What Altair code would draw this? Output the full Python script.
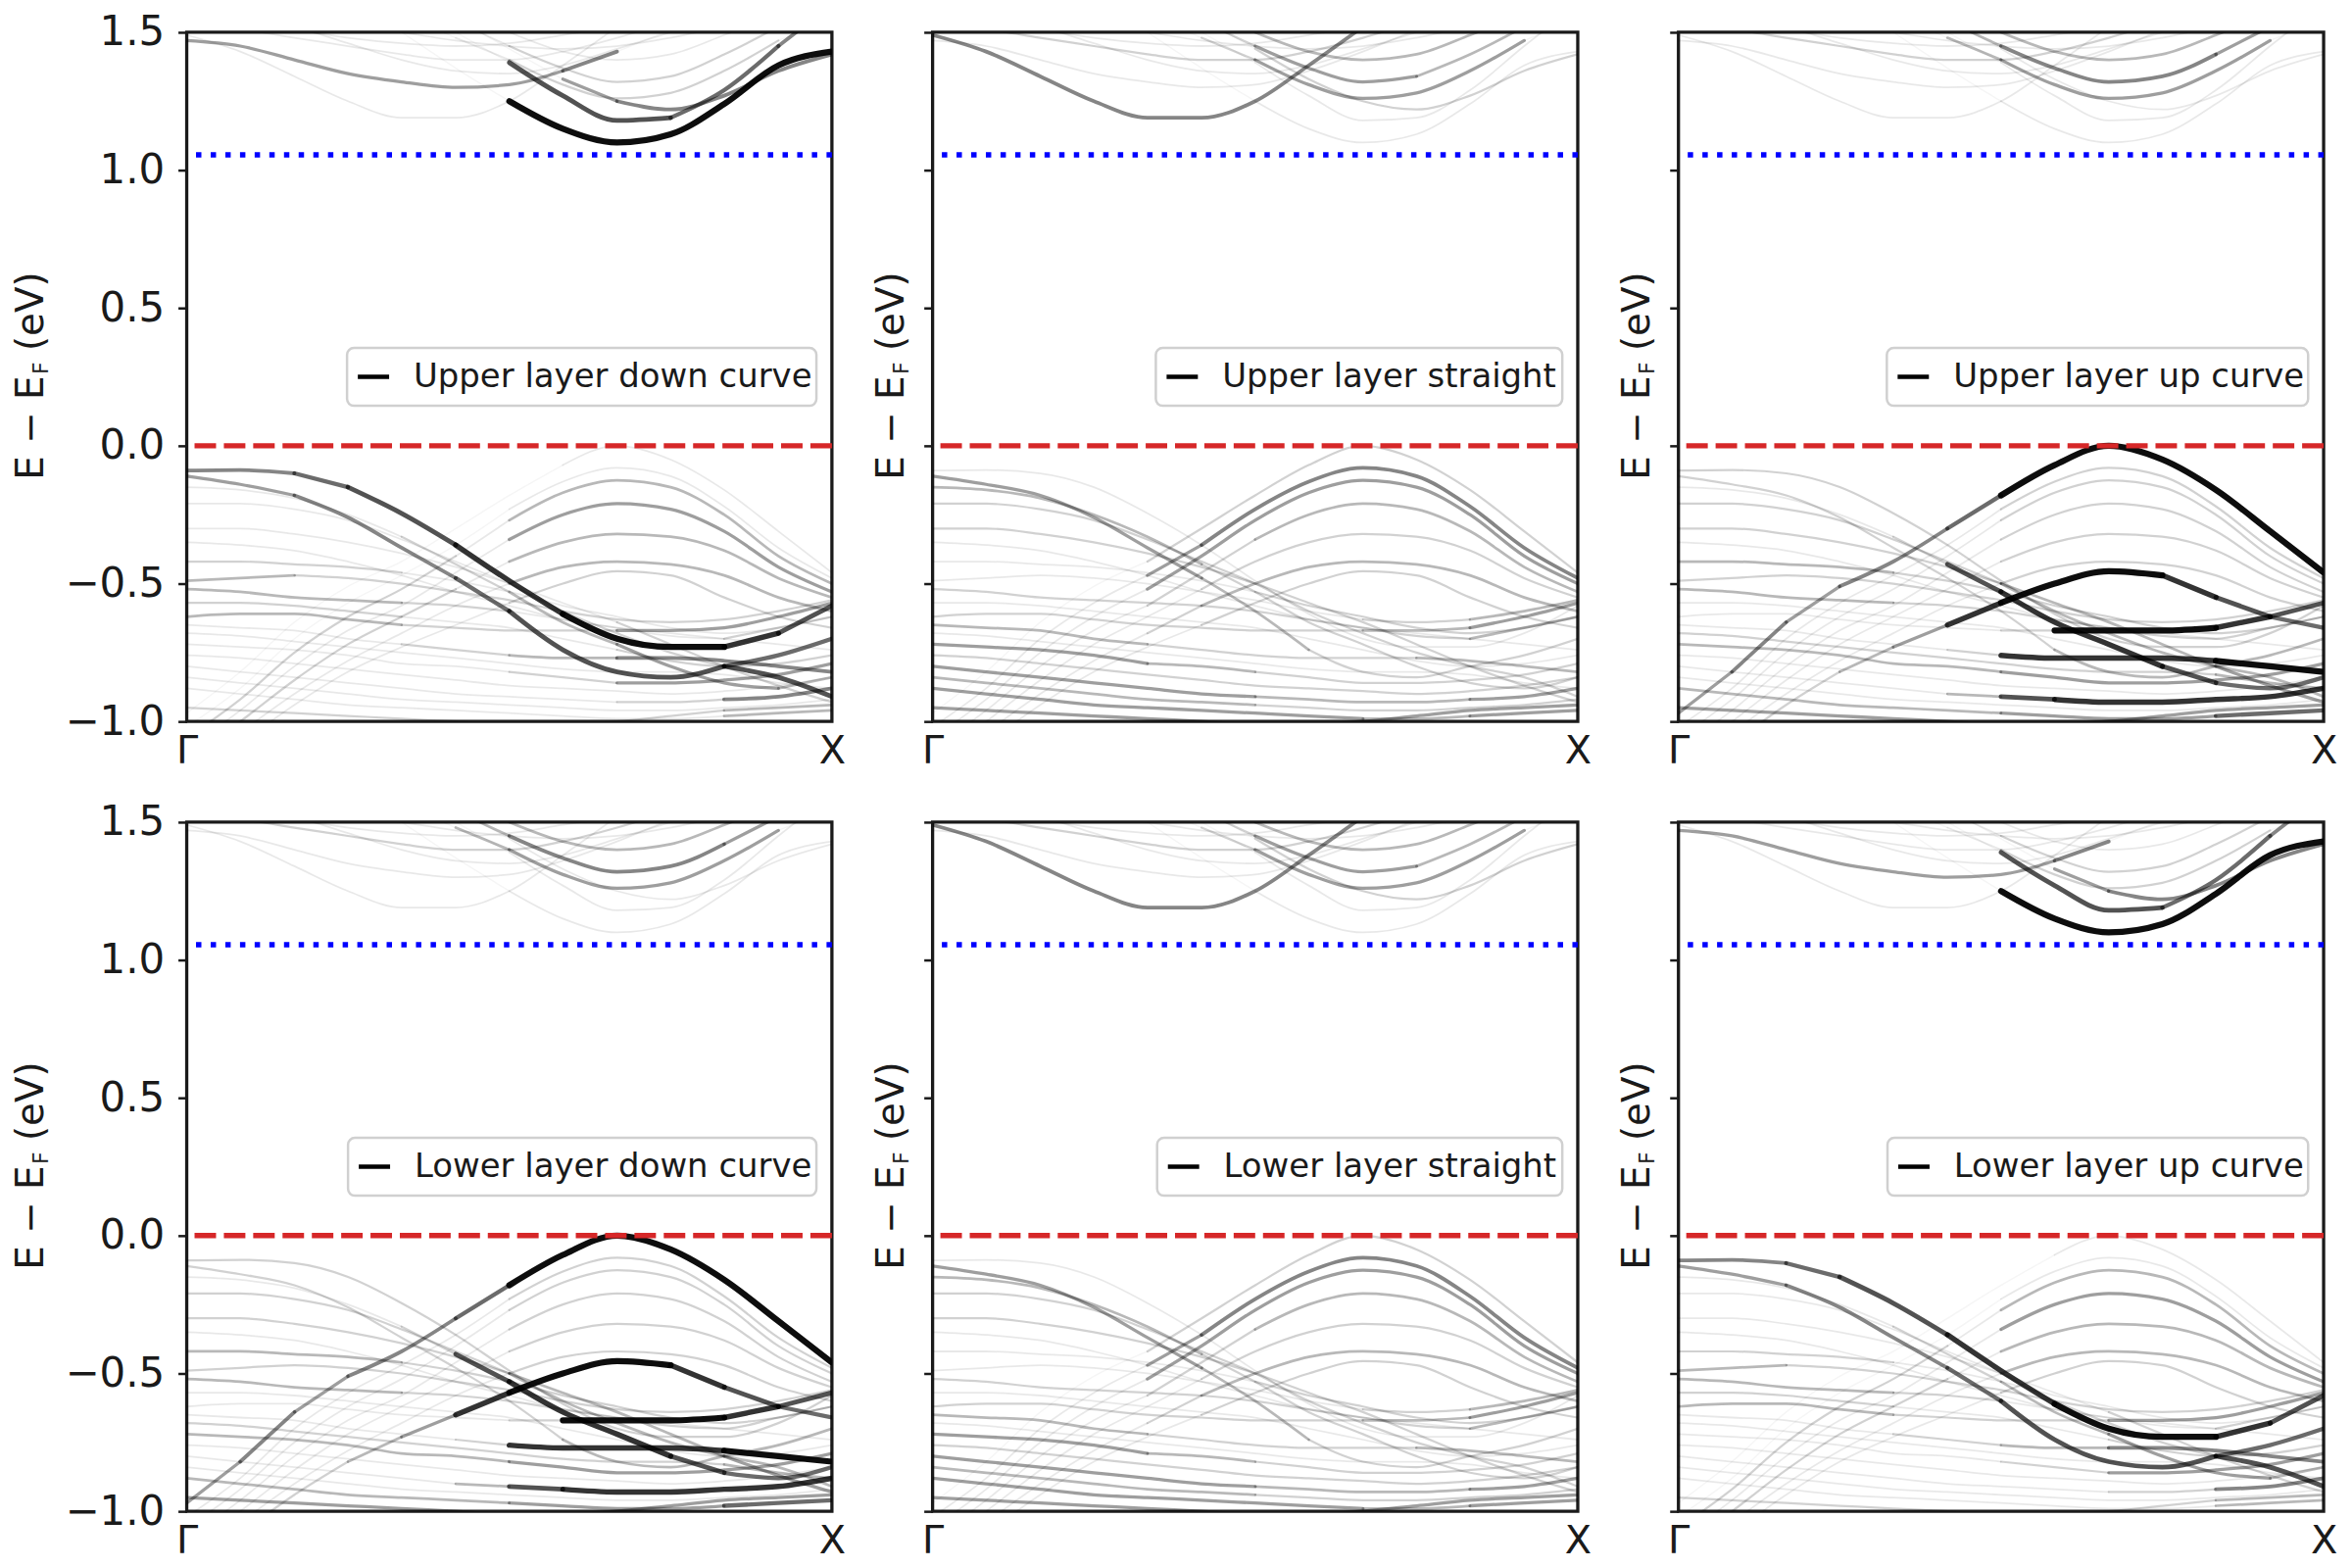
import altair as alt
import pandas as pd

# k-path grid (fraction of Gamma -> X)
K = [0.0, 0.083, 0.167, 0.25, 0.333, 0.417, 0.5, 0.583, 0.667, 0.75, 0.833, 0.917, 1.0]

# ---- band energies (eV, relative to E_F) ----
CBs = [1.49, 1.43, 1.34, 1.25, 1.19, 1.19, 1.25, 1.38, 1.52, 1.66, 1.75, 1.80, 1.80]
CBb = [1.47, 1.45, 1.40, 1.35, 1.32, 1.30, 1.31, 1.36, 1.43, 1.51, 1.60, 1.68, 1.70]
CB1 = [1.95, 1.85, 1.75, 1.63, 1.50, 1.37, 1.25, 1.15, 1.10, 1.13, 1.24, 1.38, 1.43]
CB2 = [1.95, 1.90, 1.82, 1.72, 1.61, 1.50, 1.39, 1.27, 1.18, 1.19, 1.29, 1.45, 1.60]
CB3 = [1.95, 1.90, 1.84, 1.76, 1.66, 1.55, 1.44, 1.33, 1.25, 1.22, 1.27, 1.36, 1.42]
CB4 = [1.80, 1.74, 1.68, 1.62, 1.56, 1.48, 1.40, 1.31, 1.26, 1.28, 1.36, 1.47, 1.55]
CB5 = [1.85, 1.80, 1.74, 1.68, 1.62, 1.54, 1.45, 1.37, 1.32, 1.34, 1.42, 1.52, 1.58]
CB6 = [1.90, 1.84, 1.78, 1.72, 1.66, 1.59, 1.50, 1.43, 1.40, 1.42, 1.49, 1.57, 1.64]
CB7 = [1.52, 1.51, 1.48, 1.45, 1.42, 1.40, 1.40, 1.43, 1.48, 1.54, 1.60, 1.64, 1.66]
CB8 = [1.56, 1.54, 1.51, 1.48, 1.46, 1.45, 1.46, 1.49, 1.52, 1.56, 1.58, 1.58, 1.56]
CB9 = [1.58, 1.56, 1.52, 1.46, 1.40, 1.36, 1.35, 1.38, 1.44, 1.50, 1.56, 1.60, 1.62]
CB10 = [1.62, 1.60, 1.57, 1.53, 1.50, 1.47, 1.45, 1.44, 1.45, 1.48, 1.52, 1.55, 1.56]

VA = [-0.09, -0.088, -0.10, -0.15, -0.245, -0.36, -0.49, -0.61, -0.70, -0.73, -0.73, -0.68, -0.58]
VB = [-0.11, -0.14, -0.18, -0.26, -0.37, -0.48, -0.60, -0.74, -0.82, -0.84, -0.80, -0.76, -0.70]
VC = [-0.15, -0.16, -0.19, -0.25, -0.33, -0.43, -0.53, -0.64, -0.72, -0.80, -0.86, -0.88, -0.84]
VD = [-0.21, -0.21, -0.23, -0.27, -0.34, -0.42, -0.50, -0.60, -0.68, -0.75, -0.80, -0.84, -0.91]
VE = [-0.30, -0.30, -0.32, -0.35, -0.39, -0.44, -0.50, -0.57, -0.64, -0.72, -0.80, -0.87, -0.93]
VN = [-0.35, -0.36, -0.38, -0.42, -0.47, -0.53, -0.58, -0.63, -0.66, -0.68, -0.70, -0.72, -0.74]
VF0 = [-0.42, -0.42, -0.43, -0.44, -0.46, -0.49, -0.53, -0.58, -0.62, -0.66, -0.68, -0.66, -0.62]
VF = [-0.49, -0.48, -0.47, -0.48, -0.50, -0.53, -0.56, -0.60, -0.63, -0.64, -0.63, -0.60, -0.56]
VG = [-0.52, -0.53, -0.55, -0.56, -0.57, -0.58, -0.60, -0.63, -0.66, -0.69, -0.70, -0.66, -0.62]
VO = [-0.57, -0.57, -0.58, -0.60, -0.62, -0.64, -0.66, -0.70, -0.74, -0.78, -0.80, -0.79, -0.76]
VH = [-0.62, -0.61, -0.61, -0.63, -0.65, -0.66, -0.67, -0.67, -0.67, -0.67, -0.66, -0.62, -0.57]
VI = [-0.65, -0.66, -0.67, -0.70, -0.72, -0.74, -0.76, -0.77, -0.77, -0.77, -0.78, -0.80, -0.82]
VP = [-0.68, -0.69, -0.71, -0.73, -0.75, -0.77, -0.79, -0.81, -0.82, -0.82, -0.83, -0.86, -0.88]
VJ = [-0.72, -0.73, -0.74, -0.76, -0.79, -0.80, -0.82, -0.84, -0.86, -0.86, -0.85, -0.83, -0.79]
VQ = [-0.76, -0.77, -0.79, -0.81, -0.83, -0.85, -0.87, -0.88, -0.89, -0.90, -0.89, -0.87, -0.84]
VK = [-0.80, -0.82, -0.84, -0.86, -0.88, -0.90, -0.91, -0.92, -0.93, -0.93, -0.92, -0.91, -0.88]
VR = [-0.84, -0.86, -0.88, -0.90, -0.92, -0.93, -0.94, -0.95, -0.96, -0.96, -0.95, -0.94, -0.92]
VL = [-0.88, -0.90, -0.92, -0.94, -0.95, -0.96, -0.97, -0.98, -0.99, -0.99, -0.98, -0.97, -0.96]
VM = [-0.95, -0.96, -0.97, -0.98, -0.99, -1.00, -1.01, -1.01, -1.00, -0.98, -0.96, -0.95, -0.94]
H0 = [-0.97, -0.82, -0.64, -0.51, -0.42, -0.30, -0.18, -0.07, 0.0, -0.05, -0.16, -0.31, -0.46]
H1 = [-1.02, -0.88, -0.70, -0.57, -0.47, -0.36, -0.23, -0.13, -0.08, -0.11, -0.22, -0.37, -0.48]
H2 = [-1.06, -0.92, -0.75, -0.62, -0.52, -0.40, -0.27, -0.17, -0.125, -0.15, -0.25, -0.40, -0.50]
H3 = [-1.10, -0.96, -0.80, -0.67, -0.58, -0.46, -0.34, -0.25, -0.21, -0.23, -0.31, -0.44, -0.53]
H4 = [-1.14, -1.00, -0.85, -0.72, -0.62, -0.52, -0.42, -0.35, -0.32, -0.33, -0.38, -0.48, -0.55]
H5 = [-1.18, -1.04, -0.90, -0.78, -0.68, -0.58, -0.50, -0.44, -0.42, -0.43, -0.47, -0.55, -0.60]
H6 = [-1.22, -1.08, -0.94, -0.82, -0.73, -0.65, -0.57, -0.50, -0.455, -0.47, -0.55, -0.62, -0.66]

BANDS = {
    "CBs": CBs, "CBb": CBb, "CB1": CB1, "CB2": CB2, "CB3": CB3, "CB4": CB4,
    "CB5": CB5, "CB6": CB6, "CB7": CB7, "CB8": CB8, "CB9": CB9, "CB10": CB10,
    "VA": VA, "VB": VB, "VC": VC, "VD": VD, "VE": VE, "VN": VN, "VF0": VF0,
    "VF": VF, "VG": VG, "VO": VO, "VH": VH, "VI": VI, "VP": VP, "VJ": VJ,
    "VQ": VQ, "VK": VK, "VR": VR, "VL": VL, "VM": VM,
    "H0": H0, "H1": H1, "H2": H2, "H3": H3, "H4": H4, "H5": H5, "H6": H6,
}

# ---- spectral weight per k-segment (0 = almost invisible ... 9 = black) ----
W_DEFAULT = "111111111111"
W_DOWN = {
    "CBs": "111111110000", "CBb": "444444450000", "CB1": "000000999999",
    "CB2": "000000777665", "CB3": "000000045555", "CB4": "000001222220",
    "CB5": "000001222220", "CB6": "000001111110", "CB7": "111111111100",
    "VA": "556778899987", "VB": "445556777766", "VC": "111122334443",
    "VD": "111111222277", "VE": "111111112222", "VF0": "222211111111",
    "VF": "332222222222", "VG": "333322111122", "VH": "333322224444",
    "VI": "111122335555", "VJ": "111111224444", "VK": "111111112255",
    "VL": "111111111133", "VM": "222222222233", "VO": "222211112222",
    "H0": "000000011111", "H1": "000000111111", "H2": "222221333333",
    "H3": "111111444444", "H4": "222221333333", "H5": "111111333333",
    "H6": "111111222222",
}
W_STRAIGHT = {
    "CBs": "555555550000", "CBb": "111111111000", "CB1": "000000111111",
    "CB2": "000000111111", "CB3": "000000222222", "CB4": "000002444440",
    "CB5": "000002444330", "CB6": "000001333330", "CB7": "222222222200",
    "VA": "111111111111", "VB": "444443322222", "VC": "333332222222",
    "VD": "222222222222", "VE": "222222222222", "VF0": "111111222222",
    "VF": "111111112233", "VG": "222222222233", "VH": "222222223344",
    "VI": "333322222333", "VJ": "444433222222", "VK": "444444333344",
    "VL": "444444443344", "VM": "444444444444", "VQ": "222222222222",
    "VR": "333333222222",
    "H0": "000022222222", "H1": "111145555555", "H2": "111144444444",
    "H3": "111122333333", "H4": "111112222222", "H5": "111123333333",
    "H6": "111112222222",
}
W_UP = {
    "CBs": "111111110000", "CBb": "111111111000", "CB1": "000000111111",
    "CB2": "000000111111", "CB3": "000000111111", "CB4": "000003444440",
    "CB5": "000003555540", "CB6": "000002333330", "CB7": "222222222200",
    "VA": "222222222222", "VB": "222222233333", "VC": "111127888766",
    "VD": "222222333333", "VE": "222222333344", "VF0": "333322222222",
    "VF": "222222222222", "VG": "333322222222", "VH": "111111299987",
    "VI": "111112888899", "VJ": "333333444444", "VK": "111113788888",
    "VL": "333333444466", "VM": "444444444444", "VP": "222222222233",
    "H0": "454556999999", "H1": "111111222222", "H2": "111111222222",
    "H3": "111111222222", "H4": "111111222222", "H5": "111111222222",
    "H6": "222348999876",
}
LEVEL = [0.04, 0.09, 0.18, 0.28, 0.38, 0.48, 0.58, 0.68, 0.80, 0.95]

LABELS = ["Upper layer down curve", "Upper layer straight", "Upper layer up curve",
          "Lower layer down curve", "Lower layer straight", "Lower layer up curve"]
PATTERNS = [W_DOWN, W_STRAIGHT, W_UP, W_UP, W_STRAIGHT, W_DOWN]
FERMI = 0.0
CBM = 1.055
Y_TICKS = [-1.0, -0.5, 0.0, 0.5, 1.0, 1.5]

# layout (legend box left edge in axis fraction)
BOX_LEFT = [0.2485, 0.346, 0.323, 0.25, 0.348, 0.324]
PW, PH = 660, 705

XS = alt.Scale(domain=[0, 1], nice=False, zero=False)
YS = alt.Scale(domain=[-1.0, 1.5], nice=False, zero=False)
INK = "#1a1a1a"
FONT = "DejaVu Sans"


def runs(pattern):
    """Split every band into runs of equal weight; each run is one smooth line."""
    rows = []
    rid = 0
    for name, en in BANDS.items():
        code = pattern.get(name, W_DEFAULT)
        start = 0
        for i in range(1, len(code) + 1):
            if i == len(code) or code[i] != code[start]:
                w = LEVEL[int(code[start])]
                for j in range(start, i + 1):
                    rows.append({"run": rid, "x": K[j], "y": en[j], "w": w})
                rid += 1
                start = i
    df = pd.DataFrame(rows)
    return df.sort_values(["w", "run", "x"], kind="stable").reset_index(drop=True)


def panel(i):
    first_col = i % 3 == 0
    xaxis = alt.Axis(values=[0, 1], labelExpr="datum.value < 0.5 ? 'Γ' : 'X'",
                     ticks=False, labelFontSize=40, labelPadding=10, labelFlush=False,
                     labelOverlap=False, labelAngle=0, title=None, domain=False, grid=False)
    ykw = dict(values=Y_TICKS, tickSize=9, tickWidth=2.5,
               title=None, domain=False, grid=False, labelFontSize=42, labelPadding=14)
    if first_col:
        ykw["labelExpr"] = "replace(format(datum.value, '.1f'), '-', '\u2212')"
    else:
        ykw["labels"] = False
    yaxis = alt.Axis(**ykw)

    bands = alt.Chart(runs(PATTERNS[i])).mark_line(
        clip=True, strokeCap="round", strokeJoin="round", color="black",
        interpolate="monotone").encode(
        x=alt.X("x:Q", scale=XS, axis=xaxis),
        y=alt.Y("y:Q", scale=YS, axis=yaxis),
        detail="run:N",
        opacity=alt.Opacity("w:Q", scale=None, legend=None),
        strokeWidth=alt.StrokeWidth("w:Q", scale=alt.Scale(domain=[0, 1], range=[1.3, 6.5]),
                                    legend=None),
    )
    fermi = alt.Chart(pd.DataFrame({"e": [FERMI]})).mark_rule(
        color="#d62728", strokeWidth=5.5, strokeDash=[22, 8]).encode(
        y=alt.Y("e:Q", scale=YS, title=None))
    cbm = alt.Chart(pd.DataFrame({"e": [CBM]})).mark_rule(
        color="#0000ff", strokeWidth=5.5, strokeDash=[5.5, 9.5]).encode(
        y=alt.Y("e:Q", scale=YS, title=None))

    bl = BOX_LEFT[i]
    leg = pd.DataFrame({"label": [LABELS[i]], "x1": [bl], "x2": [0.976],
                        "y1": [0.145], "y2": [0.355], "sx1": [bl + 0.0167],
                        "sx2": [bl + 0.0652], "tx": [bl + 0.103], "yc": [0.25]})
    box = alt.Chart(leg).mark_rect(fill="white", fillOpacity=0.85, stroke="#d0d0d0",
                                   strokeWidth=2.5, cornerRadius=7).encode(
        x=alt.X("x1:Q", scale=XS, title=None), x2="x2:Q",
        y=alt.Y("y1:Q", scale=YS, title=None), y2="y2:Q")
    sym = alt.Chart(leg).mark_rule(color="black", strokeWidth=4.5).encode(
        x=alt.X("sx1:Q", scale=XS, title=None), x2="sx2:Q",
        y=alt.Y("yc:Q", scale=YS, title=None))
    txt = alt.Chart(leg).mark_text(align="left", baseline="middle", fontSize=34,
                                   font=FONT, color=INK).encode(
        x=alt.X("tx:Q", scale=XS, title=None), y=alt.Y("yc:Q", scale=YS, title=None),
        text="label:N")

    # y-axis title  E - E_F (eV)  with subscript F
    tx = -147 if first_col else -30
    one = pd.DataFrame({"k": [0]})
    t1 = alt.Chart(one).mark_text(text="E \u2212 E", angle=270, align="left",
                                  baseline="alphabetic", fontSize=39, font=FONT, color=INK
                                  ).encode(x=alt.value(tx), y=alt.value(458))
    t2 = alt.Chart(one).mark_text(text="F", angle=270, align="left",
                                  baseline="alphabetic", fontSize=22, font=FONT, color=INK
                                  ).encode(x=alt.value(tx + 5), y=alt.value(350))
    t3 = alt.Chart(one).mark_text(text="(eV)", angle=270, align="left",
                                  baseline="alphabetic", fontSize=39, font=FONT, color=INK
                                  ).encode(x=alt.value(tx), y=alt.value(326))

    return alt.layer(bands, fermi, cbm, box, sym, txt, t1, t2, t3).properties(
        width=PW, height=PH)


chart = alt.concat(*[panel(i) for i in range(6)], columns=3, spacing=103,
                   bounds="flush").properties(
    padding={"left": 3, "top": 0, "right": 5, "bottom": 5},
    background="white",
).configure_view(
    stroke=INK, strokeWidth=3.3
).configure_axis(
    labelFont=FONT, labelColor=INK, tickColor=INK
)

chart.save("out.html", embed_options={"renderer": "svg", "actions": False})
